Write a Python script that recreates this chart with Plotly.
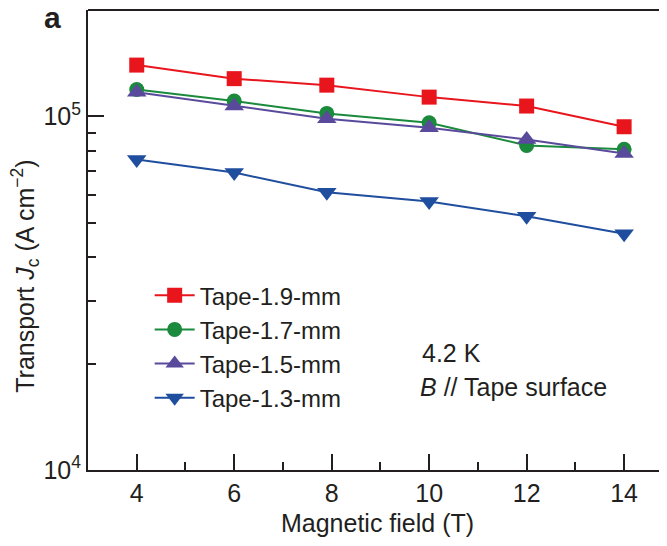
import plotly.graph_objects as go

field = [4, 6, 7.9, 10, 12, 14]
jc_19 = [1.397e5, 1.279e5, 1.226e5, 1.134e5, 1.070e5, 9.35e4]
jc_17 = [1.192e5, 1.105e5, 1.020e5, 9.60e4, 8.28e4, 8.07e4]
jc_15 = [1.171e5, 1.070e5, 9.85e4, 9.29e4, 8.61e4, 7.86e4]
jc_13 = [7.55e4, 6.94e4, 6.10e4, 5.75e4, 5.22e4, 4.66e4]

names = ["Tape-1.9-mm", "Tape-1.7-mm", "Tape-1.5-mm", "Tape-1.3-mm"]
colors = ["#e8151d", "#1b8a3c", "#5a4a9c", "#1f4e9e"]
symbols = ["square", "circle", "triangle-up", "triangle-down"]
msizes = [15, 15, 17, 17]

x_major = [4, 6, 8, 10, 12, 14]
x_minor = [5, 7, 9, 11, 13]
y_major = [1e4, 1e5]
y_major_text = ["10<sup>4</sup>", "10<sup>5</sup>"]
y_minor = [2e4, 3e4, 4e4, 5e4, 6e4, 7e4, 8e4, 9e4, 2e5]

ink = "#231f20"
font = "Liberation Sans, Arial, sans-serif"

fig = go.Figure()
for name, ys, c, s, ms in zip(names, [jc_19, jc_17, jc_15, jc_13], colors, symbols, msizes):
    fig.add_trace(go.Scatter(
        x=field, y=ys, name=name, mode="lines+markers",
        line=dict(color=c, width=2),
        marker=dict(symbol=s, size=ms, color=c, line=dict(width=0)),
    ))

xr = [3, 14.88]
yr = [4, 5.301]

# the page body has an 8px margin, so the figure is drawn 8px in from the top-left
fig.update_layout(
    width=659, height=538,
    margin=dict(l=80, r=0, t=2, b=76),
    paper_bgcolor="white", plot_bgcolor="white",
    font=dict(family=font, color=ink, size=25),
    showlegend=True,
    legend=dict(
        x=0.1065, y=0.428, xanchor="left", yanchor="top",
        font=dict(size=24, color=ink), bgcolor="rgba(0,0,0,0)",
        tracegroupgap=0, itemwidth=40,
    ),
    xaxis=dict(
        range=xr, showgrid=False, zeroline=False, automargin=False,
        showline=True, linecolor=ink, linewidth=2,
        tickmode="array", tickvals=x_major, ticks="inside",
        ticklen=16, tickwidth=2, tickcolor=ink,
        tickfont=dict(size=25, color=ink),
        minor=dict(tickmode="array", tickvals=x_minor, ticks="inside",
                   ticklen=8, tickwidth=2, tickcolor=ink, showgrid=False),
        title=dict(text="Magnetic field (T)", font=dict(size=25, color=ink), standoff=8),
    ),
    yaxis=dict(
        type="log", range=yr, showgrid=False, zeroline=False, automargin=False,
        showline=True, linecolor=ink, linewidth=2,
        tickmode="array", tickvals=y_major, ticktext=y_major_text,
        ticks="inside", ticklen=16, tickwidth=2, tickcolor=ink,
        tickfont=dict(size=25, color=ink),
        minor=dict(tickmode="array", tickvals=y_minor, ticks="inside",
                   ticklen=8, tickwidth=2, tickcolor=ink, showgrid=False),
    ),
)

# top frame line
fig.add_shape(type="line", xref="paper", yref="paper", x0=0, x1=1, y0=1, y1=1,
              line=dict(color=ink, width=2))

fig.add_annotation(text="Transport <i>J</i><sub>c</sub> (A cm<sup>−2</sup>)",
                   xref="paper", yref="paper", x=-0.109, y=0.422, textangle=-90,
                   showarrow=False, font=dict(size=25, color=ink),
                   xanchor="center", yanchor="middle")
fig.add_annotation(text="4.2 K", xref="paper", yref="paper", x=0.573, y=0.254,
                   xanchor="left", yanchor="middle", showarrow=False,
                   font=dict(size=25, color=ink))
fig.add_annotation(text="<i>B</i> // Tape surface", xref="paper", yref="paper",
                   x=0.570, y=0.180, xanchor="left", yanchor="middle", showarrow=False,
                   font=dict(size=25, color=ink))
fig.add_annotation(text="<b>a</b>", xref="paper", yref="paper", x=-0.062, y=0.983,
                   xanchor="center", yanchor="middle", showarrow=False,
                   font=dict(size=30, color=ink))

fig.write_html("out.html")
